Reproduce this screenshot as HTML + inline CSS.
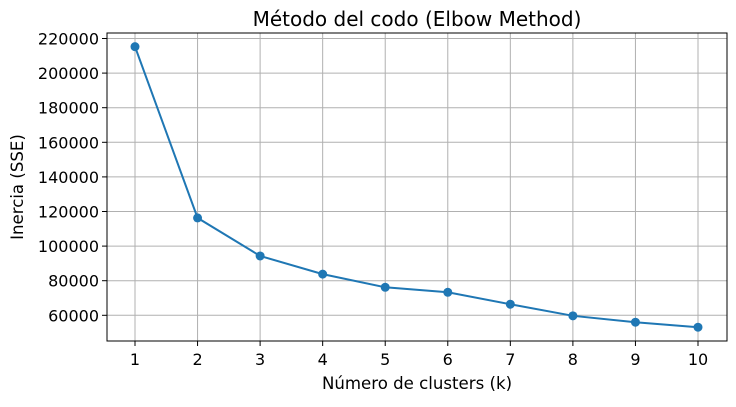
<!DOCTYPE html>
<html><head><meta charset="utf-8"><style>
body{margin:0;background:#fff;}
svg text{font-family:"DejaVu Sans","Liberation Sans",sans-serif;fill:#000;}
</style></head><body>
<svg id="chart" width="736" height="402">
<text x="417" y="26" font-size="20" text-anchor="middle">Método del codo (Elbow Method)</text>
<g id="grid"></g><g id="axes"></g><g id="series"></g>
<rect x="107" y="33" width="620" height="308" fill="none" stroke="#000" stroke-width="1"/>
<text x="417" y="389" font-size="16.6" text-anchor="middle">Número de clusters (k)</text>
<text transform="translate(23,187) rotate(-90)" font-size="16.6" text-anchor="middle">Inercia (SSE)</text>
</svg>
<script>
const categories=[1,2,3,4,5,6,7,8,9,10];
const inertia=[215300,116300,94300,83800,76200,73300,66400,59700,56000,53100];
const yTicks=[60000,80000,100000,120000,140000,160000,180000,200000,220000];
const NS='http://www.w3.org/2000/svg';
function xs(k){return 135+(k-1)*(698-135)/9;}
function ys(v){return 315.3-(v-60000)*(315.3-38.5)/160000;}
function mk(t,a,p){const e=document.createElementNS(NS,t);for(const k in a)e.setAttribute(k,a[k]);p.appendChild(e);return e;}
const grid=document.getElementById('grid'),axes=document.getElementById('axes'),ser=document.getElementById('series');
categories.forEach(k=>{const x=xs(k);
 const g=mk('line',{x1:x,x2:x,y1:33,y2:341,stroke:'#b0b0b0','stroke-width':1},grid);
 
 
 mk('line',{x1:x,x2:x,y1:341,y2:346,stroke:'#000'},axes);
 const t=mk('text',{x:x,y:365,'font-size':16,'text-anchor':'middle'},axes);t.textContent=k;
 
 
});
yTicks.forEach(v=>{const y=ys(v);
 const g=mk('line',{x1:107,x2:727,y1:y,y2:y,stroke:'#b0b0b0','stroke-width':1},grid);
 
 
 mk('line',{x1:102,x2:107,y1:y,y2:y,stroke:'#000'},axes);
 const t=mk('text',{x:99,y:y+6,'font-size':16,'text-anchor':'end'},axes);t.textContent=v;
 
 
});
const pl=mk('polyline',{points:categories.map((k,i)=>xs(k)+','+ys(inertia[i])).join(' '),fill:'none',stroke:'#1f77b4','stroke-width':2},ser);


categories.forEach((k,i)=>{const c=mk('circle',{cx:xs(k),cy:ys(inertia[i]),r:4.5,fill:'#1f77b4'},ser);
 
 
});
</script>
</body></html>
